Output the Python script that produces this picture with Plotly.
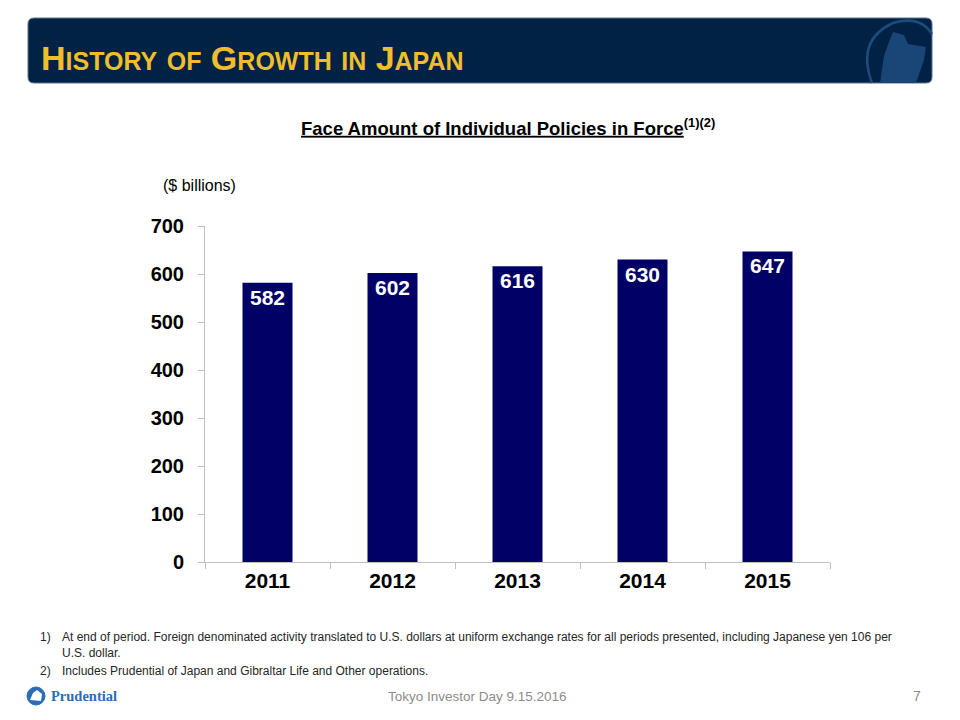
import plotly.graph_objects as go

# --------------------------------------------------
# data
# --------------------------------------------------
years = ["2011", "2012", "2013", "2014", "2015"]
face_amount = [582, 602, 616, 630, 647]
y_ticks = [0, 100, 200, 300, 400, 500, 600, 700]

title = "History of Growth in Japan"
subtitle = "Face Amount of Individual Policies in Force"
unit_label = "($ billions)"
notes = [
    ("1)", "At end of period. Foreign denominated activity translated to U.S. dollars at uniform exchange rates for all periods presented, including Japanese yen 106 per<br>U.S. dollar."),
    ("2)", "Includes Prudential of Japan and Gibraltar Life and Other operations."),
]
footer = "Tokyo Investor Day 9.15.2016"
page_no = "7"

# --------------------------------------------------
# pixel helpers (page is drawn 8px in from the window corner)
# --------------------------------------------------
OFF = 8
X0, X1, Y0, Y1 = 205, 830, 226, 562


def px(x):
    return (x - X0) / (X1 - X0)


def py(y):
    return (Y1 - y) / (Y1 - Y0)


NAVY = "#000066"
FONT = "Liberation Sans"


def small_caps(text, small=25):
    out = []
    for word in text.split(" "):
        if word.lower() in ("of", "in"):
            out.append(f"<span style='font-size:{small}px'>{word.upper()}</span>")
        else:
            out.append(word[0].upper() + f"<span style='font-size:{small}px'>{word[1:].upper()}</span>")
    return " ".join(out)


fig = go.Figure()

fig.add_trace(go.Bar(
    x=years,
    y=face_amount,
    width=0.4,
    marker=dict(color=NAVY, line=dict(width=0)),
    text=[str(v) for v in face_amount],
    textposition="inside",
    insidetextanchor="end",
    textangle=0,
    textfont=dict(family=FONT, size=21, color="white", weight="bold"),
    hoverinfo="skip",
))

# --------------------------------------------------
# header bar + decorations
# --------------------------------------------------
r = 6
hx0, hx1, hy0, hy1 = 28, 932, 18, 83
path = (
    f"M {px(hx0 + r)},{py(hy0)} L {px(hx1 - r)},{py(hy0)} "
    f"Q {px(hx1)},{py(hy0)} {px(hx1)},{py(hy0 + r)} "
    f"L {px(hx1)},{py(hy1 - r)} Q {px(hx1)},{py(hy1)} {px(hx1 - r)},{py(hy1)} "
    f"L {px(hx0 + r)},{py(hy1)} Q {px(hx0)},{py(hy1)} {px(hx0)},{py(hy1 - r)} "
    f"L {px(hx0)},{py(hy0 + r)} Q {px(hx0)},{py(hy0)} {px(hx0 + r)},{py(hy0)} Z"
)
shapes = [
    dict(type="path", xref="paper", yref="paper", path=path,
         fillcolor="#012244", line=dict(color="#5a7390", width=1), layer="below"),
    # gibraltar emblem (simplified), kept inside the header
    dict(type="path", xref="paper", yref="paper",
         path=(f"M {px(872)},{py(83)} Q {px(856)},{py(40)} {px(893)},{py(23)} "
               f"Q {px(920)},{py(15)} {px(932)},{py(34)}"),
         line=dict(color="#1d4c7c", width=2.5)),
    dict(type="path", xref="paper", yref="paper",
         path=(f"M {px(880)},{py(83)} L {px(884)},{py(56)} L {px(889)},{py(42)} "
               f"L {px(893)},{py(32)} L {px(904)},{py(35)} L {px(908)},{py(44)} "
               f"L {px(926)},{py(47)} L {px(924)},{py(60)} L {px(916)},{py(83)} Z"),
         fillcolor="#1a4677", line=dict(width=0)),
    # prudential logo icon
    dict(type="circle", xref="paper", yref="paper",
         x0=px(27), x1=px(45), y0=py(687), y1=py(705),
         fillcolor="#2a6db5", line=dict(color="#2a6db5", width=1)),
    dict(type="path", xref="paper", yref="paper",
         path=(f"M {px(30)},{py(700)} L {px(33)},{py(693)} L {px(37)},{py(690)} "
               f"L {px(42)},{py(694)} L {px(41)},{py(701)} Z"),
         fillcolor="white", line=dict(width=0)),
]

annotations = [
    dict(text="<b>" + small_caps(title) + "</b>", x=px(39), y=py(58),
         xanchor="left", yanchor="middle",
         font=dict(family=FONT, size=34, color="#f0bd2c")),
    dict(text="<b><u>" + subtitle + "</u><sup>(1)(2)</sup></b>", x=px(299), y=py(127),
         xanchor="left", yanchor="middle",
         font=dict(family=FONT, size=18.5, color="black")),
    dict(text=unit_label, x=px(161), y=py(185), xanchor="left", yanchor="middle",
         font=dict(family=FONT, size=16, color="black")),
    dict(text=footer, x=px(477), y=py(696), xanchor="center", yanchor="middle",
         font=dict(family=FONT, size=13.5, color="#8c8c8c")),
    dict(text=page_no, x=px(917), y=py(696), xanchor="center", yanchor="middle",
         font=dict(family=FONT, size=14, color="#8c8c8c")),
    dict(text="<b>Prudential</b>", x=px(49), y=py(696), xanchor="left", yanchor="middle",
         font=dict(family="Liberation Serif", size=14.5, color="#2a6db5")),
]

note_y = [628, 662]
for (num, txt), ny in zip(notes, note_y):
    annotations.append(dict(text=num, x=px(38), y=py(ny), xanchor="left", yanchor="top",
                            font=dict(family=FONT, size=12, color="#262626")))
    annotations.append(dict(text=txt, x=px(60), y=py(ny), xanchor="left", yanchor="top",
                            align="left",
                            font=dict(family=FONT, size=12, color="#262626")))

for a in annotations:
    a["xref"] = "paper"
    a["yref"] = "paper"
    a["showarrow"] = False

fig.update_layout(
    width=960,
    height=720,
    margin=dict(l=X0 - OFF, r=960 - (X1 - OFF), t=Y0 - OFF, b=720 - (Y1 - OFF)),
    paper_bgcolor="white",
    plot_bgcolor="white",
    showlegend=False,
    bargap=0.6,
    shapes=shapes,
    annotations=annotations,
    xaxis=dict(
        showline=True, linecolor="#bfbfbf", linewidth=1,
        ticks="outside", tickson="boundaries", ticklen=6, tickcolor="#bfbfbf",
        tickfont=dict(family=FONT, size=21, color="black", weight="bold"),
        showgrid=False, fixedrange=True,
    ),
    yaxis=dict(
        range=[0, 700], tickvals=y_ticks,
        showline=True, linecolor="#bfbfbf", linewidth=1,
        ticks="outside", ticklen=6, tickcolor="#bfbfbf",
        tickfont=dict(family=FONT, size=20, color="black", weight="bold"),
        showgrid=False, zeroline=False, fixedrange=True, ticklabelstandoff=10,
    ),
)

fig.write_html("out.html")
